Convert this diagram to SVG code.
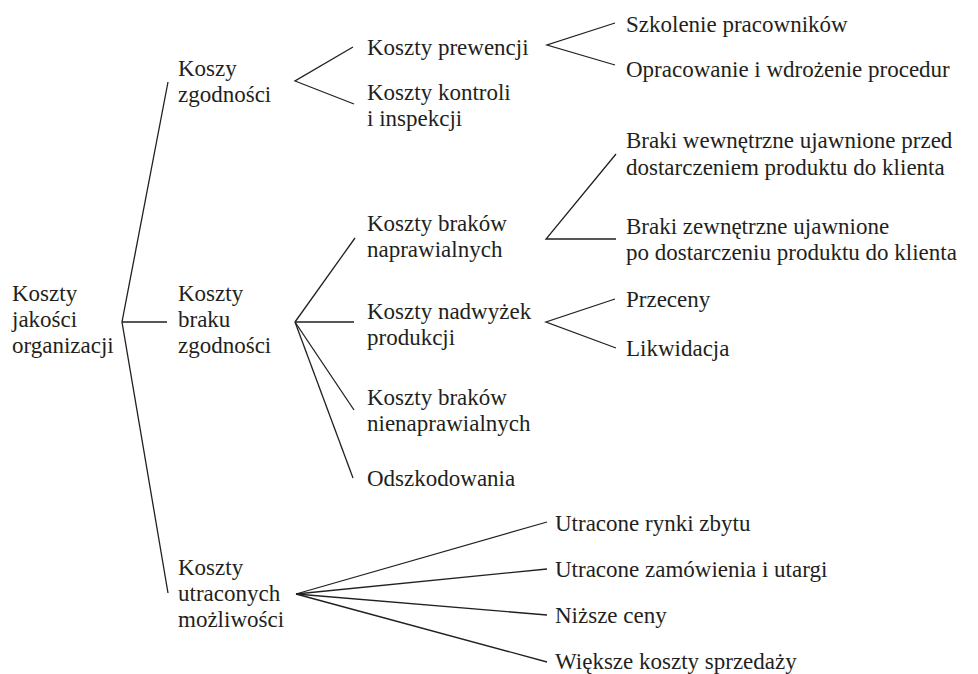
<svg xmlns="http://www.w3.org/2000/svg" width="978" height="674" viewBox="0 0 978 674">
  <style>
    text { font-family: "Liberation Serif", "Times New Roman", serif; font-size: 23px; fill: #231f20; }
    .conn { fill: none; stroke: #231f20; stroke-width: 1.3; stroke-linejoin: miter; }
  </style>
  <rect width="978" height="674" fill="#ffffff"/>

  <!-- connectors -->
  <g id="connectors" class="conn">
    <polyline points="168,82 122,322 168,593"/>
    <line x1="122" y1="322" x2="167" y2="322"/>
    <polyline points="353,47 295,81 354,104"/>
    <polyline points="615,23 547,45 615,65"/>
    <polyline points="616,154 546,239 616,239"/>
    <line x1="295" y1="322" x2="355" y2="238"/>
    <line x1="295" y1="322" x2="354" y2="322"/>
    <line x1="295" y1="322" x2="354" y2="410"/>
    <line x1="295" y1="322" x2="353" y2="478"/>
    <polyline points="615,299 546,322 616,348"/>
    <line x1="296" y1="594" x2="547" y2="522"/>
    <line x1="296" y1="594" x2="547" y2="569"/>
    <line x1="296" y1="594" x2="547" y2="615"/>
    <line x1="296" y1="594" x2="547" y2="662"/>
  </g>

  <!-- root -->
  <g id="koszty-jakosci">
    <text x="12" y="301">Koszty</text>
    <text x="12" y="327">jakości</text>
    <text x="12" y="353">organizacji</text>
  </g>

  <!-- level 1 -->
  <g id="koszy-zgodnosci">
    <text x="178" y="76">Koszy</text>
    <text x="178" y="102">zgodności</text>
  </g>
  <g id="koszty-braku-zgodnosci">
    <text x="178" y="301">Koszty</text>
    <text x="178" y="327">braku</text>
    <text x="178" y="353">zgodności</text>
  </g>
  <g id="koszty-utraconych">
    <text x="178" y="575">Koszty</text>
    <text x="178" y="601">utraconych</text>
    <text x="178" y="627">możliwości</text>
  </g>

  <!-- level 2 -->
  <g id="koszty-prewencji">
    <text x="367" y="55">Koszty prewencji</text>
  </g>
  <g id="koszty-kontroli">
    <text x="367" y="100">Koszty kontroli</text>
    <text x="367" y="126">i inspekcji</text>
  </g>
  <g id="koszty-brakow-naprawialnych">
    <text x="367" y="231">Koszty braków</text>
    <text x="367" y="257">naprawialnych</text>
  </g>
  <g id="koszty-nadwyzek">
    <text x="367" y="319">Koszty nadwyżek</text>
    <text x="367" y="345">produkcji</text>
  </g>
  <g id="koszty-brakow-nienaprawialnych">
    <text x="367" y="405">Koszty braków</text>
    <text x="367" y="431">nienaprawialnych</text>
  </g>
  <g id="odszkodowania">
    <text x="367" y="486">Odszkodowania</text>
  </g>

  <!-- level 3 -->
  <g id="szkolenie">
    <text x="626" y="32">Szkolenie pracowników</text>
  </g>
  <g id="opracowanie">
    <text x="626" y="77">Opracowanie i wdrożenie procedur</text>
  </g>
  <g id="braki-wewnetrzne">
    <text x="626" y="148">Braki wewnętrzne ujawnione przed</text>
    <text x="626" y="175">dostarczeniem produktu do klienta</text>
  </g>
  <g id="braki-zewnetrzne">
    <text x="626" y="234">Braki zewnętrzne ujawnione</text>
    <text x="626" y="260">po dostarczeniu produktu do klienta</text>
  </g>
  <g id="przeceny">
    <text x="626" y="307">Przeceny</text>
  </g>
  <g id="likwidacja">
    <text x="626" y="356">Likwidacja</text>
  </g>
  <g id="utracone-rynki">
    <text x="555" y="531">Utracone rynki zbytu</text>
  </g>
  <g id="utracone-zamowienia">
    <text x="555" y="577">Utracone zamówienia i utargi</text>
  </g>
  <g id="nizsze-ceny">
    <text x="555" y="623">Niższe ceny</text>
  </g>
  <g id="wieksze-koszty">
    <text x="555" y="669">Większe koszty sprzedaży</text>
  </g>
</svg>
